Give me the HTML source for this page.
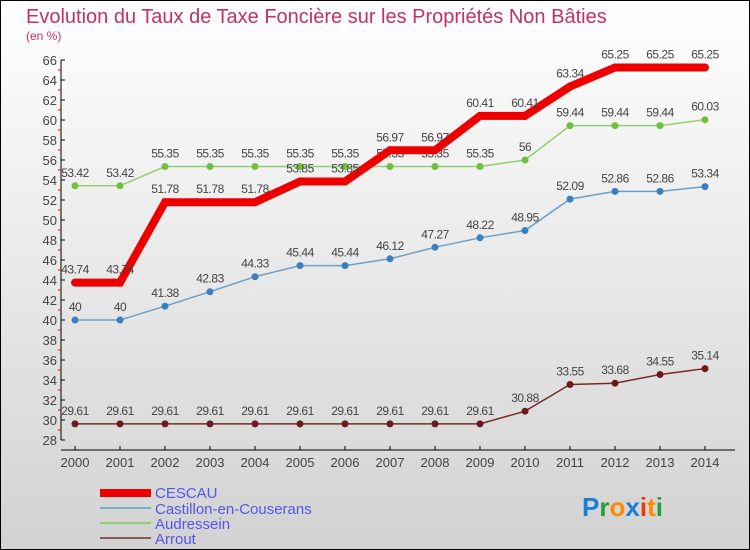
<!DOCTYPE html>
<html><head><meta charset="utf-8"><style>
body{margin:0}
svg{display:block;font-family:"Liberation Sans",sans-serif}
</style></head><body>
<svg width="750" height="550" xmlns="http://www.w3.org/2000/svg">
<defs><linearGradient id="bg" x1="0" y1="0" x2="0" y2="1"><stop offset="0" stop-color="#ffffff"/><stop offset="1" stop-color="#d2d2d2"/></linearGradient></defs>
<rect x="0.5" y="0.5" width="749" height="549" fill="url(#bg)" stroke="#000"/>
<text x="26" y="23" font-size="20" fill="#c0306a">Evolution du Taux de Taxe Foncière sur les Propriétés Non Bâties</text>
<text x="26" y="40" font-size="12" fill="#c0306a">(en %)</text>
<g id="axes"></g>
<g id="series"></g>
<g>
<rect x="100" y="489" width="51" height="8" fill="#e00"/>
<text x="155" y="498" font-size="15" fill="#5555ee">CESCAU</text>
<rect x="100" y="507" width="51" height="2" fill="#7aaed0"/>
<text x="155" y="514" font-size="15" fill="#5555ee">Castillon-en-Couserans</text>
<rect x="100" y="522" width="51" height="2" fill="#90d070"/>
<text x="155" y="529" font-size="15" fill="#5555ee">Audressein</text>
<rect x="100" y="537" width="51" height="2" fill="#8a5a5a"/>
<text x="155" y="544" font-size="15" fill="#5555ee">Arrout</text>
</g>
<g font-size="26" font-weight="bold">
<text x="582" y="516"><tspan fill="#1a7fd6">P</tspan><tspan fill="#2a9a3a">r</tspan><tspan fill="#ff8a00">o</tspan><tspan fill="#1a7fd6">x</tspan><tspan fill="#e83a10">i</tspan><tspan fill="#ff8a00">t</tspan><tspan fill="#2a9a3a">i</tspan></text>
</g>
</svg>
<script>
const years=[2000,2001,2002,2003,2004,2005,2006,2007,2008,2009,2010,2011,2012,2013,2014];
const cescau=[43.74,43.74,51.78,51.78,51.78,53.85,53.85,56.97,56.97,60.41,60.41,63.34,65.25,65.25,65.25];
const castillon=[40,40,41.38,42.83,44.33,45.44,45.44,46.12,47.27,48.22,48.95,52.09,52.86,52.86,53.34];
const audressein=[53.42,53.42,55.35,55.35,55.35,55.35,55.35,55.35,55.35,55.35,56,59.44,59.44,59.44,60.03];
const arrout=[29.61,29.61,29.61,29.61,29.61,29.61,29.61,29.61,29.61,29.61,30.88,33.55,33.68,34.55,35.14];
const yTicks=[28,30,32,34,36,38,40,42,44,46,48,50,52,54,56,58,60,62,64,66];
const NS="http://www.w3.org/2000/svg";
const X=i=>75+i*45, Y=v=>440-(v-28)*10;
function mk(tag,attrs,parent,txt){const e=document.createElementNS(NS,tag);for(const k in attrs)e.setAttribute(k,attrs[k]);if(txt!==undefined)e.textContent=txt;parent.appendChild(e);return e;}
const ax=document.getElementById('axes'), sg=document.getElementById('series');
let l=mk('line',{x1:61,y1:60,x2:61,y2:440,stroke:'#000'},ax);


yTicks.forEach(t=>{
 mk('line',{x1:61,y1:Y(t),x2:65,y2:Y(t),stroke:'#000'},ax);
 if(t<66)mk('line',{x1:58,y1:Y(t+1),x2:61,y2:Y(t+1),stroke:'#e00'},ax);
 const tx=mk('text',{x:57,y:Y(t)+5,'font-size':13,fill:'#444','text-anchor':'end'},ax,t);
 
 
});
l=mk('line',{x1:61,y1:450,x2:735,y2:450,stroke:'#000'},ax);


years.forEach((y,i)=>{
 mk('line',{x1:X(i),y1:446,x2:X(i),y2:450,stroke:'#000'},ax);
 const tx=mk('text',{x:X(i),y:467,'font-size':13,fill:'#444','text-anchor':'middle'},ax,y);
 
 
});
function series(vals,color,dot,w,r,name){
 const g=mk('g',{},sg);
 
 
 const pts=vals.map((v,i)=>X(i)+','+Y(v)).join(' ');
 const pl=mk('polyline',{points:pts,fill:'none',stroke:color,'stroke-width':w,'stroke-linejoin':'miter'},g);
 
 
 vals.forEach((v,i)=>{
  const c=mk('circle',{cx:X(i),cy:Y(v),r:r,fill:dot},g);
  
  
  const t=mk('text',{x:X(i),y:Y(v)-9,'font-size':12,fill:'#444','text-anchor':'middle','letter-spacing':'-0.5'},g,v);
  
  
 });
}
series(arrout,'#7a2a2a','#6a1a1a',1.5,3.5,'arrout');
series(castillon,'#6aa0c8','#3a80c0',1.5,3.5,'castillon');
series(audressein,'#90d070','#70c040',1.5,3.5,'audressein');
series(cescau,'#ee0000','#ee0000',8,4,'cescau');
</script>
</body></html>
